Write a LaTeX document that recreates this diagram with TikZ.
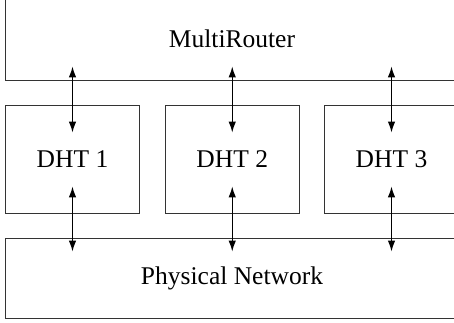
\documentclass[tikz,border=0pt]{standalone}
\usepackage{fontspec}
\setmainfont{Liberation Serif}
\usetikzlibrary{arrows.meta}
\begin{document}
\begin{tikzpicture}[x=1pt,y=1pt,
  box/.style={draw=black!80, line width=0.9pt, inner sep=0pt, font=\fontsize{25.5}{30}\selectfont},
  link/.style={{Latex[length=11pt,width=7.5pt]}-{Latex[length=11pt,width=7.5pt]}, line width=1.2pt, black}]
\useasboundingbox (0,0) rectangle (454,323);
\clip (0,0) rectangle (454,323);
\node[box, minimum width=453pt, minimum height=82pt] (mr) at (232,284) {MultiRouter};
\node[box, minimum width=134pt, minimum height=108pt] (d1) at (72.5,164) {DHT 1};
\node[box, minimum width=134pt, minimum height=108pt] (d2) at (232.25,164) {DHT 2};
\node[box, minimum width=134pt, minimum height=108pt] (d3) at (391.5,164) {DHT 3};
\node[box, minimum width=453pt, minimum height=80pt] (pn) at (232,45) {Physical Network};
\foreach \d in {d1,d2,d3}{
  \draw[link] ([yshift=-28pt]\d.north) -- ([yshift=14pt]\d.north |- mr.south);
  \draw[link] ([yshift=27pt]\d.south) -- ([yshift=-14pt]\d.south |- pn.north);
}
\end{tikzpicture}
\end{document}
